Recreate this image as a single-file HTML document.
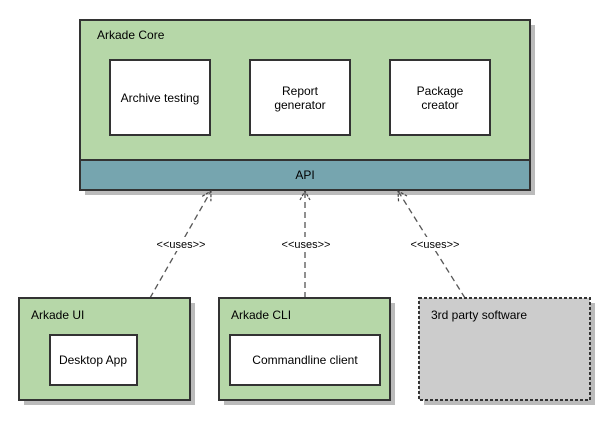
<!DOCTYPE html>
<html><head><style>body{margin:0;background:#fff}svg text{font-family:"Liberation Sans",sans-serif;font-size:12px;fill:#000}</style></head>
<body>
<svg width="614" height="420" xmlns="http://www.w3.org/2000/svg">
<defs><marker id="a" markerWidth="12" markerHeight="12" refX="10" refY="6" orient="auto" markerUnits="userSpaceOnUse"><path d="M1,1 L10,6 L1,11" fill="none" stroke="#444" stroke-width="1.2" stroke-dasharray="3,1.5"/></marker></defs>
<rect x="85" y="25" width="450" height="170" fill="#bbb"/>
<rect x="80" y="20" width="450" height="170" fill="#b6d7a8" stroke="#333" stroke-width="2"/>
<rect x="80" y="160" width="450" height="30" fill="#76a5af" stroke="#333" stroke-width="2"/>
<text x="97" y="39">Arkade Core</text>
<text x="305" y="179" text-anchor="middle">API</text>
<rect x="110" y="60" width="100" height="75" fill="#fff" stroke="#333" stroke-width="2"/>
<rect x="250" y="60" width="100" height="75" fill="#fff" stroke="#333" stroke-width="2"/>
<rect x="390" y="60" width="100" height="75" fill="#fff" stroke="#333" stroke-width="2"/>
<text x="160" y="102" text-anchor="middle">Archive testing</text>
<text x="300" y="95" text-anchor="middle">Report</text><text x="300" y="109" text-anchor="middle">generator</text>
<text x="440" y="95" text-anchor="middle">Package</text><text x="440" y="109" text-anchor="middle">creator</text>
<g stroke="#555" stroke-width="1.3" stroke-dasharray="6,4" fill="none">
<line x1="150" y1="298" x2="211" y2="191" marker-end="url(#a)"/>
<line x1="305" y1="298" x2="305" y2="191" marker-end="url(#a)"/>
<line x1="465" y1="298" x2="398" y2="191" marker-end="url(#a)"/>
</g>
<rect x="150" y="237" width="62" height="14" fill="#fff"/>
<rect x="275" y="237" width="62" height="14" fill="#fff"/>
<rect x="404" y="237" width="62" height="14" fill="#fff"/>
<text x="181" y="248" text-anchor="middle" style="font-size:11px">&lt;&lt;uses&gt;&gt;</text>
<text x="306" y="248" text-anchor="middle" style="font-size:11px">&lt;&lt;uses&gt;&gt;</text>
<text x="435" y="248" text-anchor="middle" style="font-size:11px">&lt;&lt;uses&gt;&gt;</text>
<rect x="24" y="303" width="171" height="102" fill="#bbb"/>
<rect x="19" y="298" width="171" height="102" fill="#b6d7a8" stroke="#333" stroke-width="2"/>
<text x="31" y="319">Arkade UI</text>
<rect x="50" y="335" width="87" height="50" fill="#fff" stroke="#333" stroke-width="2"/>
<text x="93" y="364" text-anchor="middle">Desktop App</text>
<rect x="224" y="303" width="171" height="102" fill="#bbb"/>
<rect x="219" y="298" width="171" height="102" fill="#b6d7a8" stroke="#333" stroke-width="2"/>
<text x="231" y="319">Arkade CLI</text>
<rect x="230" y="335" width="150" height="50" fill="#fff" stroke="#333" stroke-width="2"/>
<text x="305" y="364" text-anchor="middle">Commandline client</text>
<rect x="424" y="303" width="171" height="102" fill="#bbb"/>
<rect x="419" y="298" width="171" height="102" fill="#ccc" stroke="#333" stroke-width="2" stroke-dasharray="3,2"/>
<text x="431" y="319">3rd party software</text>
</svg>
</body></html>
